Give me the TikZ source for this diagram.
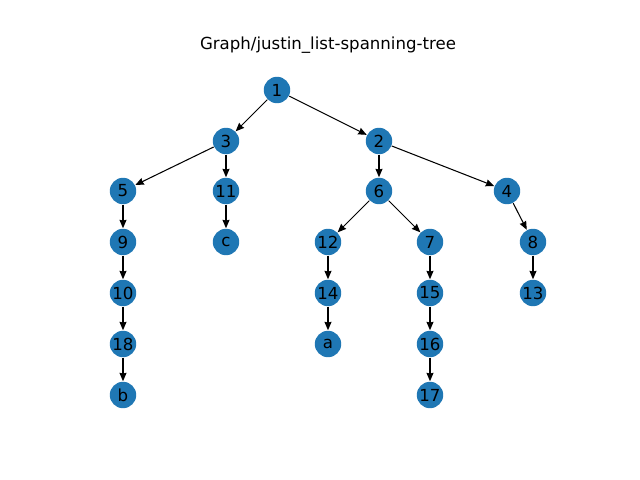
\documentclass[tikz,border=0pt]{standalone}
\usepackage{fontspec}
\setmainfont{DejaVu Sans}
\usetikzlibrary{arrows.meta}
\definecolor{nodeblue}{HTML}{1F77B4}

\tikzset{vertex/.style={circle,fill=nodeblue,inner sep=0pt,minimum size=0.66cm,
  font=\fontsize{11.8}{12}\selectfont}}

\begin{document}
\begin{tikzpicture}[x=0.025cm,y=-0.025cm,>={Stealth[length=6pt,width=5pt,inset=0.5pt]},line width=0.75pt]
            \useasboundingbox (0,0) rectangle (640,480);

            \node[font=\fontsize{11.8}{12}\selectfont] (title) at (328,45) {Graph/justin\_list-spanning-tree};

            \node[vertex] (n1) at (277,90) {1};
            \node[vertex] (n3) at (226,141) {3};
            \node[vertex] (n2) at (379,141) {2};
            \node[vertex] (n5) at (123,191) {5};
            \node[vertex] (n11) at (226,191) {11};
            \node[vertex] (n6) at (379,191) {6};
            \node[vertex] (n4) at (507,191) {4};
            \node[vertex] (n9) at (123,242) {9};
            \node[vertex] (nc) at (226,242) {c};
            \node[vertex] (n12) at (328,242) {12};
            \node[vertex] (n7) at (430,242) {7};
            \node[vertex] (n8) at (533,242) {8};
            \node[vertex] (n10) at (123,293) {10};
            \node[vertex] (n14) at (328,293) {14};
            \node[vertex] (n15) at (430,293) {15};
            \node[vertex] (n13) at (533,293) {13};
            \node[vertex] (n18) at (123,344) {18};
            \node[vertex] (na) at (328,344) {a};
            \node[vertex] (n16) at (430,344) {16};
            \node[vertex] (nb) at (123,395) {b};
            \node[vertex] (n17) at (430,395) {17};

            \path[->] (n1) edge (n3)
                      (n1) edge (n2)
                      (n3) edge (n5)
                      (n3) edge (n11)
                      (n2) edge (n6)
                      (n2) edge (n4)
                      (n5) edge (n9)
                      (n11) edge (nc)
                      (n6) edge (n12)
                      (n6) edge (n7)
                      (n4) edge (n8)
                      (n9) edge (n10)
                      (n12) edge (n14)
                      (n7) edge (n15)
                      (n8) edge (n13)
                      (n10) edge (n18)
                      (n14) edge (na)
                      (n15) edge (n16)
                      (n18) edge (nb)
                      (n16) edge (n17);

        \end{tikzpicture}
\end{document}
